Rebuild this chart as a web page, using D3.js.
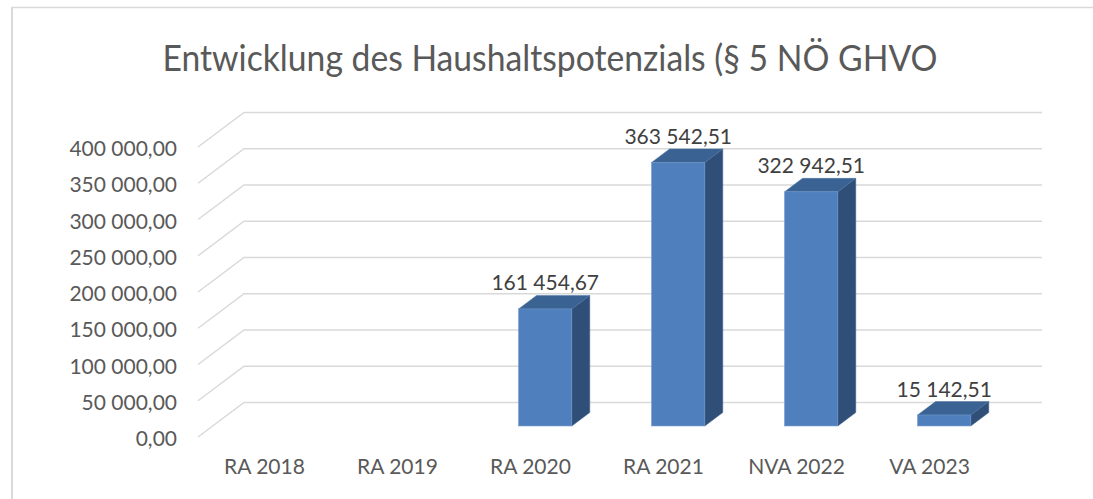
<!DOCTYPE html>
<html>
<head>
<meta charset="utf-8">
<script src="https://cdn.jsdelivr.net/npm/d3@7"></script>
<style>
  body { margin: 0; background: #fff; }
  svg text { font-family: Lato, "Open Sans", sans-serif; }
</style>
</head>
<body>
<svg id="chart" width="1093" height="499"></svg>
<script>

var categories = ["RA 2018", "RA 2019", "RA 2020", "RA 2021", "NVA 2022", "VA 2023"]
var values = [null, null, 161454.67, 363542.51, 322942.51, 15142.51]
var yTicks = [0, 50000, 100000, 150000, 200000, 250000, 300000, 350000, 400000]
var title = "Entwicklung des Haushaltspotenzials (§ 5 NÖ GHVO"

var svg = d3.select("#chart")

// german style numbers: 363 542,51
var loc = d3.formatLocale({decimal: ",", thousands: " ", grouping: [3], currency: ["", ""]})
var fmt = loc.format(",.2f")

// oblique depth of the floor
var depthX = 46, depthY = 34.5

var x = d3.scaleBand().domain(categories).range([198, 996]).padding(0)
var y = d3.scaleLinear().domain([0, 400000]).range([437, 147])

// chart frame (left and top only visible)
svg.append("line").attr("x1", 12).attr("x2", 12).attr("y1", 7).attr("y2", 499)
    .style("stroke", "#d9d9d9").style("stroke-width", 2)
svg.append("line").attr("x1", 12).attr("x2", 1093).attr("y1", 7.5).attr("y2", 7.5)
    .style("stroke", "#d9d9d9").style("stroke-width", 1.5)

svg.append("text").attr("x", 550).attr("y", 71)
    .attr("text-anchor", "middle")
    .attr("textLength", 775).attr("lengthAdjust", "spacingAndGlyphs")
    .style("font-size", "37px").style("fill", "#595959")
    .text(title)

// gridlines: diagonal on the side wall, then along the back wall
svg.selectAll("path.grid").data(yTicks).enter().append("path")
    .attr("class", "grid")
    .attr("d", function(t) {
        var yf = y(t), yb = y(t) - depthY
        return "M" + x.range()[0] + "," + yf + "L" + (x.range()[0] + depthX) + "," + yb + "L" + (x.range()[1] + depthX) + "," + yb
    })
    .style("fill", "none").style("stroke", "#d9d9d9").style("stroke-width", 1.5)

svg.selectAll("text.ytick").data(yTicks).enter().append("text")
    .attr("class", "ytick")
    .attr("x", 177).attr("y", function(t) {return y(t) + 9})
    .attr("text-anchor", "end")
    .style("font-size", "21px").style("fill", "#595959")
    .text(function(t) {return fmt(t)})

svg.selectAll("text.xtick").data(categories).enter().append("text")
    .attr("class", "xtick")
    .attr("x", function(c) {return x(c) + x.bandwidth() / 2})
    .attr("y", 474)
    .attr("text-anchor", "middle")
    .style("font-size", "21px").style("fill", "#595959")
    .text(function(c) {return c})

// bars sit between 32% and 71% of the floor depth
var f1 = 0.32, f2 = 0.71
var barW = x.bandwidth() * 0.4
var sideX = (f2 - f1) * depthX, sideY = (f2 - f1) * depthY

var data = categories.map(function(c, i) {return {cat: c, v: values[i]}}).filter(function(d) {return d.v != null})

var bars = svg.selectAll("g.bar").data(data).enter().append("g").attr("class", "bar")
    .each(function(d) {
        var g = d3.select(this)
        var x0 = x(d.cat) + (x.bandwidth() - barW) / 2 + f1 * depthX
        var x1 = x0 + barW
        var yb = y(0) - f1 * depthY
        var yt = y(d.v) - f1 * depthY

        // side
        g.append("path")
            .attr("d", "M" + x1 + "," + yb + "L" + (x1 + sideX) + "," + (yb - sideY) + "L" + (x1 + sideX) + "," + (yt - sideY) + "L" + x1 + "," + yt + "Z")
            .style("fill", "#304f78").style("stroke", "#3d5f8c").style("stroke-width", 0.5)
        // top
        g.append("path")
            .attr("d", "M" + x0 + "," + yt + "L" + x1 + "," + yt + "L" + (x1 + sideX) + "," + (yt - sideY) + "L" + (x0 + sideX) + "," + (yt - sideY) + "Z")
            .style("fill", "#3a6292").style("stroke", "#4a72a3").style("stroke-width", 0.5)
        // front
        g.append("rect")
            .attr("x", x0).attr("y", yt).attr("width", barW).attr("height", yb - yt)
            .style("fill", "#4f80bd").style("stroke", "#6d96c9").style("stroke-width", 0.6)

        g.append("text")
            .attr("x", x0 + barW / 2)
            .attr("y", yt - sideY - 5)
            .attr("text-anchor", "middle")
            .style("font-size", "21px").style("fill", "#404040")
            .text(fmt(d.v))
    })

</script>
</body>
</html>
